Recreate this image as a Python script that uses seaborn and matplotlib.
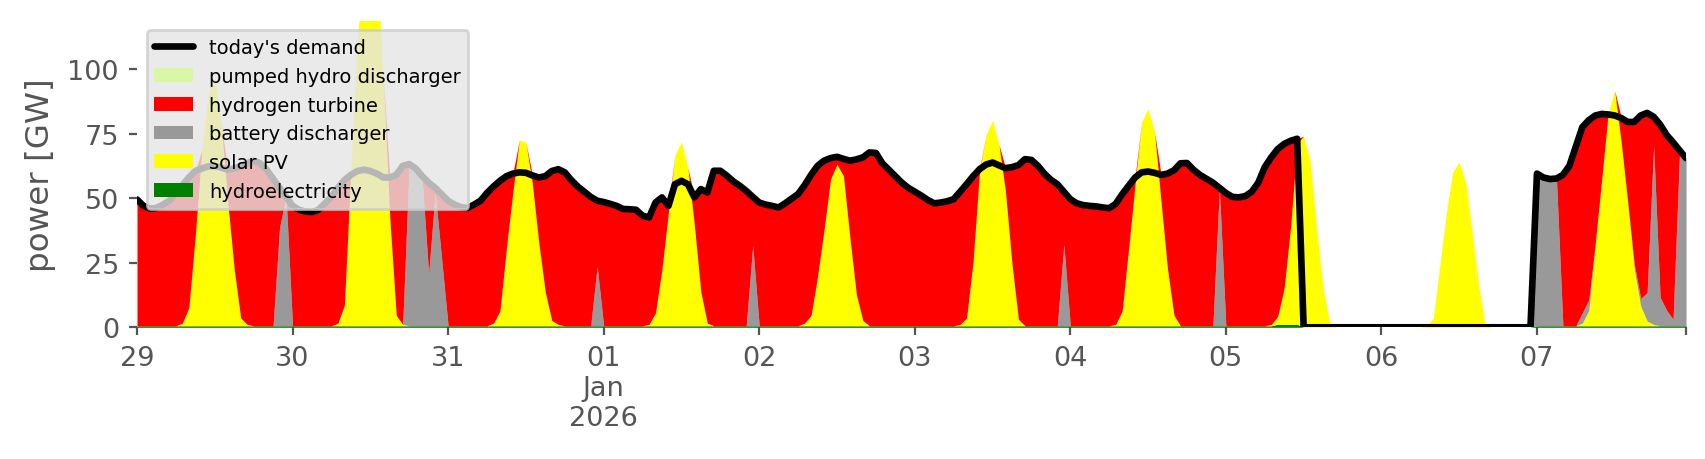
import matplotlib
matplotlib.use("Agg")
import pandas as pd
import matplotlib.pyplot as plt
from matplotlib.lines import Line2D
from matplotlib.patches import Patch
import seaborn as sns

# ---------------- data (hourly, GW) ----------------
start_time = "2025-12-29 00:00"

demand_gw = [
    49.5, 47, 46, 46.2, 47.5, 49, 52, 55, 58, 60.5, 61.5, 62.3, 62.5, 61.8, 61, 61.5, 62.5, 63.5, 64.5, 63.5, 61, 57.5, 54, 50.5,
    47, 45.5, 44.8, 44.6, 45.5, 48, 50.5, 54, 57, 59, 60.5, 61, 60.5, 59.5, 58, 58, 59, 62.5, 63.2, 61.5, 58.5, 56, 54, 51.5,
    49, 47.5, 46.5, 46.2, 47.5, 49, 52, 54.5, 56.7, 58.5, 59.5, 60, 59.8, 58.8, 58, 58.5, 60.5, 61.2, 60, 57, 54.5, 52.5, 50.5, 49,
    48.5, 47.8, 47, 45.8, 45.7, 45.5, 43.2, 42.5, 48.3, 50.3, 47, 55.4, 56.7, 55.4, 50.3, 53.5, 52.2, 60.6, 60.6, 58.7, 56.5, 54.8, 52.8, 50.5,
    48.3, 47.5, 47, 46.4, 48, 49.8, 51.6, 55, 59, 62.5, 64.5, 65.5, 66, 65.2, 64.5, 65, 65.8, 67.7, 67.5, 63.5, 61, 58.5, 56, 54,
    52.5, 51, 49.3, 48, 48.3, 48.8, 49.6, 52.5, 55.4, 58.5, 61.2, 63, 63.8, 62.7, 61.6, 62, 62.8, 65.1, 64.8, 62.5, 59.5, 57.1, 55.4, 52.5,
    49.6, 48, 47.3, 47, 46.8, 46.4, 46.1, 47.8, 51.5, 54.8, 58, 60, 60.3, 59.8, 59, 59.5, 60.8, 63.5, 63.6, 61, 59, 57.5, 56, 54,
    52, 50.5, 50.3, 50.8, 52.5, 56, 62, 65.8, 69, 71, 72.2, 73, 0, 0, 0, 0, 0, 0, 0, 0, 0, 0, 0, 0,
    0, 0, 0, 0, 0, 0, 0, 0, 0, 0, 0, 0, 0, 0, 0, 0, 0, 0, 0, 0, 0, 0, 0, 0,
    59.5, 58, 57.4, 57.6, 59, 62.5, 70, 77.5, 80.2, 82, 82.6, 82.4, 82, 81, 79.5, 79.5, 82, 83, 81.5, 78.5, 74.5, 71.6, 68.5, 65.5,
]

hydro_gw = [
    0.6, 0.6, 0.6, 0.6, 0.6, 0.6, 0.6, 0.6, 0.6, 0.6, 0.6, 0.6, 0.6, 0.6, 0.6, 0.6, 0.6, 0.6, 0.6, 0.6, 0.6, 0.6, 0.6, 0.6,
    0.6, 0.6, 0.6, 0.6, 0.6, 0.6, 0.6, 0.6, 0.6, 0.6, 0.6, 0.6, 0.6, 0.6, 0.6, 0.6, 0.6, 0.6, 0.6, 0.6, 0.6, 0.6, 0.6, 0.6,
    0.6, 0.6, 0.6, 0.6, 0.6, 0.6, 0.6, 0.6, 0.6, 0.6, 0.6, 0.6, 0.6, 0.6, 0.6, 0.6, 0.6, 0.6, 0.6, 0.6, 0.6, 0.6, 0.6, 0.6,
    0.6, 0.6, 0.6, 0.6, 0.6, 0.6, 0.6, 0.6, 0.6, 0.6, 0.6, 0.6, 0.6, 0.6, 0.6, 0.6, 0.6, 0.6, 0.6, 0.6, 0.6, 0.6, 0.6, 0.6,
    0.6, 0.6, 0.6, 0.6, 0.6, 0.6, 0.6, 0.6, 0.6, 0.6, 0.6, 0.6, 0.6, 0.6, 0.6, 0.6, 0.6, 0.6, 0.6, 0.6, 0.6, 0.6, 0.6, 0.6,
    0.6, 0.6, 0.6, 0.6, 0.6, 0.6, 0.6, 0.6, 0.6, 0.6, 0.6, 0.6, 0.6, 0.6, 0.6, 0.6, 0.6, 0.6, 0.6, 0.6, 0.6, 0.6, 0.6, 0.6,
    0.6, 0.6, 0.6, 0.6, 0.6, 0.6, 0.6, 0.6, 0.6, 0.6, 0.6, 0.6, 0.6, 0.6, 0.6, 0.6, 0.6, 0.6, 0.6, 0.6, 0.6, 0.6, 0.6, 0.6,
    0.6, 0.6, 0.6, 0.6, 0.6, 0.6, 0.6, 0.6, 1.2, 1.2, 1.2, 1.2, 0, 0, 0, 0, 0, 0, 0, 0, 0, 0, 0, 0,
    0, 0, 0, 0, 0, 0, 0, 0, 0, 0, 0, 0, 0, 0, 0, 0, 0, 0, 0, 0, 0, 0, 0, 0,
    0.6, 0.6, 0.6, 0.6, 0.6, 0.6, 0.6, 0.6, 0.6, 0.6, 0.6, 0.6, 0.6, 0.6, 0.6, 0.6, 0.6, 0.6, 0.6, 0.6, 0.6, 0.6, 0.6, 0.6,
]

solar_gw = [
    0, 0, 0, 0, 0, 0, 0, 1, 7, 35, 68, 90, 96, 78, 48, 22, 3, 0.5, 0, 0, 0, 0, 0, 0,
    0, 0, 0, 0, 0, 0, 0, 1, 8, 60, 112, 135, 138, 140, 96, 42, 4, 0.5, 0, 0, 0, 0, 0, 0,
    0, 0, 0, 0, 0, 0, 0, 1, 5.7, 30, 52, 72, 71, 55, 32, 13, 2, 0.5, 0, 0, 0, 0, 0, 0,
    0, 0, 0, 0, 0, 0, 0, 0.5, 5, 22, 44, 66, 71.3, 61, 39, 13, 1, 0, 0, 0, 0, 0, 0, 0,
    0, 0, 0, 0, 0, 0, 0, 1, 4, 19, 37, 56.7, 62.5, 58, 34, 12, 2, 0, 0, 0, 0, 0, 0, 0,
    0, 0, 0, 0, 0, 0, 0, 0.5, 3, 25, 60, 74, 79.6, 70, 52, 24, 2.5, 0, 0, 0, 0, 0, 0, 0,
    0, 0, 0, 0, 0, 0, 0, 0.5, 5.7, 30, 55, 79, 84, 75, 48, 22, 4, 0, 0, 0, 0, 0, 0, 0,
    0, 0, 0, 0, 0, 0, 0, 0.5, 3, 14, 38, 70, 74, 64.5, 38, 15, 2, 0, 0, 0, 0, 0, 0, 0,
    0, 0, 0, 0, 0, 0, 0, 0.5, 3.5, 23.7, 44, 60, 64, 56, 36.6, 16, 1, 0, 0, 0, 0, 0, 0, 0,
    0, 0, 0, 0, 0, 0, 0, 1, 6, 32, 57, 82.6, 91, 71, 48, 22, 7.6, 1.8, 0.5, 0, 0, 0, 0, 0,
]

battery_gw = [
    0, 0, 0, 0, 0, 0, 0, 0, 0, 0, 0, 0, 0, 0, 0, 0, 0, 0, 0, 0, 0, 0, 38, 50,
    0, 0, 0, 0, 0, 0, 0, 0, 0, 0, 0, 0, 0, 0, 0, 0, 0, 0, 62.7, 61, 57, 20, 51.5, 26,
    0, 0, 0, 0, 0, 0, 0, 0, 0, 0, 0, 0, 0, 0, 0, 0, 0, 0, 0, 0, 0, 0, 0, 23,
    0, 0, 0, 0, 0, 0, 0, 0, 0, 0, 0, 0, 0, 0, 0, 0, 0, 0, 0, 0, 0, 0, 0, 31,
    0, 0, 0, 0, 0, 0, 0, 0, 0, 0, 0, 0, 0, 0, 0, 0, 0, 0, 0, 0, 0, 0, 0, 0,
    0, 0, 0, 0, 0, 0, 0, 0, 0, 0, 0, 0, 0, 0, 0, 0, 0, 0, 0, 0, 0, 0, 0, 31.5,
    0, 0, 0, 0, 0, 0, 0, 0, 0, 0, 0, 0, 0, 0, 0, 0, 0, 0, 0, 0, 0, 0, 0, 53,
    0, 0, 0, 0, 0, 0, 0, 0, 0, 0, 0, 0, 0, 0, 0, 0, 0, 0, 0, 0, 0, 0, 0, 0,
    0, 0, 0, 0, 0, 0, 0, 0, 0, 0, 0, 0, 0, 0, 0, 0, 0, 0, 0, 0, 0, 0, 0, 0,
    59, 57.5, 56.9, 57.1, 0, 0, 0, 4, 4, 0, 0, 0, 0, 0, 0, 2, 3, 11, 69, 11, 6, 2.5, 67, 65,
]

hydrogen_gw = [
    49.0, 46.5, 45.5, 45.7, 47.0, 48.5, 51.5, 53.5, 50.5, 25.0, 0, 0, 0, 0, 12.5, 39.0, 59.0, 62.5, 64.0, 63.0, 60.5, 57.0, 15.5, 0,
    46.5, 45.0, 44.3, 44.1, 45.0, 47.5, 50.0, 52.5, 48.5, 0, 0, 0, 0, 0, 0, 15.5, 54.5, 61.5, 0, 0, 1.0, 35.5, 2.0, 25.0,
    48.5, 47.0, 46.0, 45.7, 47.0, 48.5, 51.5, 53.0, 50.5, 28.0, 7.0, 0, 0, 3.3, 25.5, 45.0, 58.0, 60.2, 59.5, 56.5, 54.0, 52.0, 50.0, 25.5,
    48.0, 47.3, 46.5, 45.3, 45.2, 45.0, 42.7, 41.5, 42.8, 27.8, 2.5, 0, 0, 0, 10.8, 40.0, 50.7, 60.1, 60.1, 58.2, 56.0, 54.3, 52.3, 19.0,
    47.8, 47.0, 46.5, 45.9, 47.5, 49.3, 51.1, 53.5, 54.5, 43.0, 27.0, 8.3, 3.0, 6.7, 30.0, 52.5, 63.3, 67.2, 67.0, 63.0, 60.5, 58.0, 55.5, 53.5,
    52.0, 50.5, 48.8, 47.5, 47.8, 48.3, 49.1, 51.5, 51.9, 33.0, 0.7, 0, 0, 0, 9.1, 37.5, 59.8, 64.6, 64.3, 62.0, 59.0, 56.6, 54.9, 20.5,
    49.1, 47.5, 46.8, 46.5, 46.3, 45.9, 45.6, 46.8, 45.3, 24.3, 2.5, 0, 0, 0, 10.5, 37.0, 56.3, 63.0, 63.1, 60.5, 58.5, 57.0, 55.5, 0.5,
    51.5, 50.0, 49.8, 50.3, 52.0, 55.5, 61.5, 64.8, 64.8, 55.8, 33.0, 1.8, 0, 0, 0, 0, 0, 0, 0, 0, 0, 0, 0, 0,
    0, 0, 0, 0, 0, 0, 0, 0, 0, 0, 0, 0, 0, 0, 0, 0, 0, 0, 0, 0, 0, 0, 0, 0,
    0, 0, 0, 0, 58.5, 62.0, 69.5, 72.0, 69.7, 49.5, 25.1, 0, 0, 9.5, 31.0, 55.0, 70.9, 69.7, 11.5, 67.0, 68.0, 68.6, 1.0, 0,
]

pumped_hydro_gw = [
    0, 0, 0, 0, 0, 0, 0, 0, 0, 0, 0, 0, 0, 0, 0, 0, 0, 0, 0, 0, 0, 0, 0, 0,
    0, 0, 0, 0, 0, 0, 0, 0, 0, 0, 0, 0, 0, 0, 0, 0, 0, 0, 0, 0, 0, 0, 0, 0,
    0, 0, 0, 0, 0, 0, 0, 0, 0, 0, 0, 0, 0, 0, 0, 0, 0, 0, 0, 0, 0, 0, 0, 0,
    0, 0, 0, 0, 0, 0, 0, 0, 0, 0, 0, 0, 0, 0, 0, 0, 0, 0, 0, 0, 0, 0, 0, 0,
    0, 0, 0, 0, 0, 0, 0, 0, 0, 0, 0, 0, 0, 0, 0, 0, 0, 0, 0, 0, 0, 0, 0, 0,
    0, 0, 0, 0, 0, 0, 0, 0, 0, 0, 0, 0, 0, 0, 0, 0, 0, 0, 0, 0, 0, 0, 0, 0,
    0, 0, 0, 0, 0, 0, 0, 0, 0, 0, 0, 0, 0, 0, 0, 0, 0, 0, 0, 0, 0, 0, 0, 0,
    0, 0, 0, 0, 0, 0, 0, 0, 0, 0, 0, 0, 0, 0, 0, 0, 0, 0, 0, 0, 0, 0, 0, 0,
    0, 0, 0, 0, 0, 0, 0, 0, 0, 0, 0, 0, 0, 0, 0, 0, 0, 0, 0, 0, 0, 0, 0, 0,
    0, 0, 0, 0, 0, 0, 0, 0, 0, 0, 0, 0, 0, 0, 0, 0, 0, 0, 0, 0, 0, 0, 0, 0,
]

# stack order bottom -> top
stack_labels = ["hydroelectricity", "solar PV", "battery discharger",
                "hydrogen turbine", "pumped hydro discharger"]
stack_colors = ["#008000", "#FFFF00", "#999999", "#FF0000", "#DAF7A6"]
demand_label = "today's demand"

day_tick_labels = ["29", "30", "31", "01\nJan\n2026", "02", "03", "04",
                   "05", "06", "07"]
y_ticks = [0, 25, 50, 75, 100]

# ---------------- style ----------------
sns.set_theme(style="white")
plt.rcParams["font.family"] = ["DejaVu Sans"]

times = pd.date_range(start_time, periods=len(demand_gw), freq="h")

fig = plt.figure(figsize=(8.53, 2.3), dpi=200)
ax = fig.add_axes([0.0803, 0.2863, 0.908, 0.6665])
ax.set_facecolor("white")

ax.stackplot(times, hydro_gw, solar_gw, battery_gw, hydrogen_gw,
             pumped_hydro_gw, colors=stack_colors, linewidth=0,
             labels=stack_labels)
sns.lineplot(x=times, y=demand_gw, ax=ax, color="black", linewidth=2.4,
             zorder=3, legend=False)

ax.set_xlim(times[0], times[-1])
ax.set_ylim(0, 118.7)
ax.set_yticks(y_ticks)
ax.set_yticklabels([str(v) for v in y_ticks])

day_ticks = list(pd.date_range(start_time, periods=len(day_tick_labels), freq="D"))
ax.set_xticks(day_ticks + [times[-1]])
ax.set_xticklabels(day_tick_labels + [""])

for s in ax.spines.values():
    s.set_visible(False)
ax.grid(False)

ax.tick_params(axis="both", which="major", colors="#555555", labelsize=9.75,
               length=3, width=0.8, direction="out", bottom=True, left=True)
ax.set_xlabel("")
ax.set_ylabel("power [GW]", fontsize=11.7, color="#555555")

handles = [Line2D([0], [0], color="black", lw=2.4)]
labels = [demand_label]
for lab, col in reversed(list(zip(stack_labels, stack_colors))):
    handles.append(Patch(facecolor=col, edgecolor="none", linewidth=0))
    labels.append(lab)

leg = ax.legend(handles, labels, loc="upper left", fontsize=7.0,
                frameon=True, facecolor="#E5E5E5", edgecolor="0.8",
                framealpha=0.8, fancybox=True)
for t in leg.get_texts():
    t.set_color("black")

fig.savefig("out.png", dpi=200)
